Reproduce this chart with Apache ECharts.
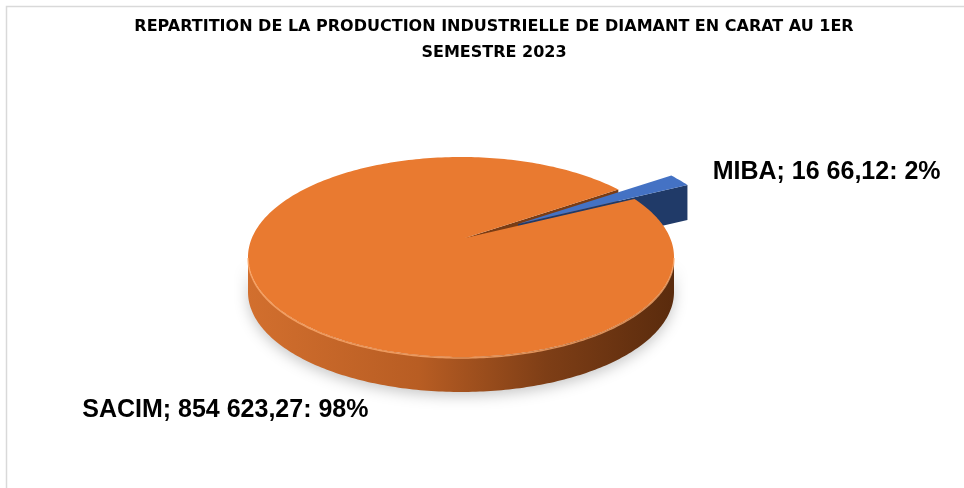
<!DOCTYPE html>
<html><head><meta charset="utf-8">
<script src="https://cdn.jsdelivr.net/npm/echarts@6/dist/echarts.min.js"></script>
<style>html,body{margin:0;padding:0;background:#fff}#c{width:964px;height:488px}</style>
</head><body><div id="c"></div>
<script>
// ---- data ----
const categories = ['MIBA', 'SACIM'];
const values = [16666.12, 854623.27];
const valueLabels = ['16 66,12', '854 623,27'];
const titleText = 'REPARTITION DE LA PRODUCTION INDUSTRIELLE DE DIAMANT EN CARAT AU 1ER\nSEMESTRE 2023';

// ---- style / geometry ----
const G = { cx: 461, cy: 257, rx: 213, ry: 100, ax: 465, ay: 238, depth: 35 };
const START_ANGLE = 35.5;
const explodeOffsets = [[53, -14], [0, 0]];
const topColors = ['#4472C4', '#E97A30'];
const faceColors = ['#203A68', '#7A3C14'];
const labelOffsets = [[33, -8, 'left'], [-70, 90, 'center']];
const FONT = '"Liberation Sans", Arial, sans-serif';

const total = values.reduce((a, b) => a + b, 0);
const sliceAngles = [];
{ let acc = START_ANGLE; values.forEach(v => { const a1 = acc; acc += v / total * 360; sliceAngles.push([a1, acc]); }); }

function rimPt(th, off, down) {
  const r = th * Math.PI / 180;
  return [G.cx + G.rx * Math.cos(r) + off[0], G.cy - G.ry * Math.sin(r) + off[1] + (down || 0)];
}
function arc(a1, a2, off, down) {
  const pts = []; const n = Math.max(2, Math.ceil(Math.abs(a2 - a1)));
  for (let i = 0; i <= n; i++) pts.push(rimPt(a1 + (a2 - a1) * i / n, off, down));
  return pts;
}
const sideGrad = { type: 'linear', x: G.cx - G.rx, y: 0, x2: G.cx + G.rx, y2: 0, global: true,
  colorStops: [{ offset: 0, color: '#D26F2E' }, { offset: 0.4, color: '#B85D23' }, { offset: 0.7, color: '#7E3E16' }, { offset: 1, color: '#5A2B0D' }] };

function renderItem(params, api) {
  const i = params.dataIndex;
  const [a1, a2] = sliceAngles[i];
  const mid = (a1 + a2) / 2;
  const off = explodeOffsets[i];
  const apex = [G.ax + off[0], G.ay + off[1]];
  const base = i === 1 ? 0 : 3;
  const children = [];
  // radial faces (front-facing only)
  [[a1, a1 - 90], [a2, a2 + 90]].forEach(([a, n]) => {
    if (Math.sin(n * Math.PI / 180) < 0) {
      const p = rimPt(a, off), q = rimPt(a, off, G.depth);
      children.push({ type: 'polygon', z2: base + 1,
        shape: { points: [apex, p, q, [apex[0], apex[1] + G.depth]] },
        style: { fill: faceColors[i] } });
    }
  });
  // outer rim (front half)
  [[180, 360], [540, 720]].forEach(([f1, f2]) => {
    const s = Math.max(a1, f1), t = Math.min(a2, f2);
    if (t > s) {
      const top = arc(s, t, off), bot = arc(t, s, off, G.depth);
      children.push({ type: 'polygon', z2: base + 2,
        shape: { points: top.concat(bot) },
        style: { fill: i === 1 ? sideGrad : faceColors[i], shadowBlur: 14, shadowColor: 'rgba(0,0,0,0.22)', shadowOffsetY: 4 } });
      children.push({ type: 'polyline', z2: 12, shape: { points: arc(s, t, off, 1) },
        style: { stroke: 'rgba(255,175,115,0.75)', lineWidth: 1.5, fill: null } });
    }
  });
  // top face
  children.push({ type: 'polygon', z2: i === 1 ? 10 : 6,
    shape: { points: [apex].concat(arc(a1, a2, off)) },
    style: { fill: topColors[i] } });
  // label
  const lp = rimPt(mid, off);
  const lo = labelOffsets[i];
  const pct = Math.round(api.value(0) / total * 100);
  children.push({ type: 'text', z2: 20, x: lp[0] + lo[0], y: lp[1] + lo[1],
    style: { text: categories[i] + '; ' + valueLabels[i] + ': ' + pct + '%', fill: '#000',
      font: 'bold 25px ' + FONT, align: lo[2], verticalAlign: 'middle' } });
  return { type: 'group', children };
}

const chart = echarts.init(document.getElementById('c'));
chart.setOption({
  backgroundColor: '#fff',
  animation: false,
  title: { text: titleText, left: 489, top: 9, textAlign: 'center',
    textStyle: { fontFamily: '"DejaVu Sans", sans-serif', fontWeight: 'bold', fontSize: 16, color: '#000', lineHeight: 26 } },
  graphic: [{ type: 'rect', shape: { x: 6.5, y: 6.5, width: 1000, height: 1000 }, style: { fill: null, stroke: '#D9D9D9', lineWidth: 1.5 }, silent: true }],
  series: [{
    type: 'custom', coordinateSystem: 'none', renderItem,
    data: values.map((v, i) => ({ name: categories[i], value: v }))
  }]
});
</script></body></html>
